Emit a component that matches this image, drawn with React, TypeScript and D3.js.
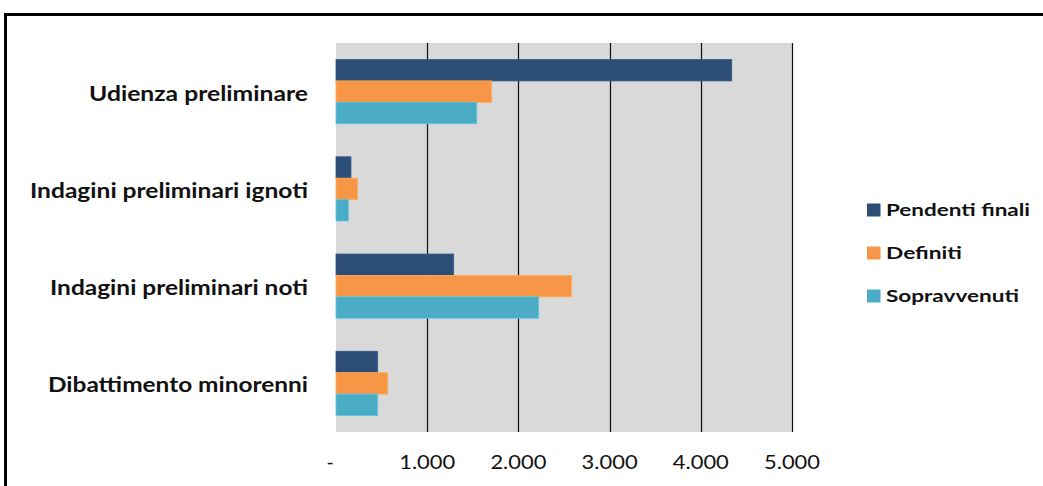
import React from "react";
import * as d3 from "d3";

const categories = [
  "Udienza preliminare",
  "Indagini preliminari ignoti",
  "Indagini preliminari noti",
  "Dibattimento minorenni",
];
const seriesNames = ["Pendenti finali", "Definiti", "Sopravvenuti"];
const pendentiFinali = [4339, 164, 1290, 457];
const definiti = [1707, 234, 2584, 567];
const sopravvenuti = [1543, 135, 2222, 457];
const tickValues = [0, 1000, 2000, 3000, 4000, 5000];
const tickLabels = ["-", "1.000", "2.000", "3.000", "4.000", "5.000"];

// rendered widths of the wide, Calibri-like labels
const categoryWidths = [219, 278, 258, 260];
const legendWidths = [144, 76, 133];
const tickWidth = 56;

const colors = ["#2C4E76", "#F79646", "#4BACC6"];
const font = "Lato, 'Open Sans', sans-serif";

export default function App() {
  const W = 1043;
  const H = 486;
  const plot = { left: 336, right: 792, top: 43, bottom: 432 };
  const x = d3.scaleLinear().domain([0, 5000]).range([plot.left, plot.right]);
  const y = d3
    .scaleBand<string>()
    .domain(categories)
    .range([plot.top, plot.bottom])
    .paddingInner(0.34)
    .paddingOuter(0.17);
  const inner = d3
    .scaleBand<string>()
    .domain(seriesNames)
    .range([0, y.bandwidth()]);
  const series = [pendentiFinali, definiti, sopravvenuti];

  return (
    <svg
      width={W}
      height={H}
      style={{ position: "fixed", left: 0, top: 0, background: "#fff" }}
    >
      <rect x={5.5} y={14.5} width={1100} height={600} fill="#fff" stroke="#000" strokeWidth={3} />
      <rect
        x={plot.left}
        y={plot.top}
        width={plot.right - plot.left}
        height={plot.bottom - plot.top}
        fill="#D9D9D9"
      />
      {tickValues.slice(1).map((t) => (
        <line
          key={t}
          x1={Math.round(x(t)) + 0.5}
          x2={Math.round(x(t)) + 0.5}
          y1={plot.top}
          y2={plot.bottom}
          stroke="#111"
          strokeWidth={1.2}
        />
      ))}
      {categories.map((c, i) => (
        <g key={c}>
          {series.map((s, j) => (
            <rect
              key={j}
              x={x(0)}
              y={(y(c) as number) + (inner(seriesNames[j]) as number)}
              width={x(s[i]) - x(0)}
              height={inner.bandwidth()}
              fill={colors[j]}
              stroke={d3.color(colors[j])!.brighter(0.4).toString()}
              strokeWidth={0.8}
            />
          ))}
          <text
            x={308}
            y={(y(c) as number) + y.bandwidth() / 2 + 9}
            textAnchor="end"
            fontFamily={font}
            fontWeight="bold"
            fontSize={21.5}
            textLength={categoryWidths[i]}
            lengthAdjust="spacingAndGlyphs"
            fill="#111"
          >
            {c}
          </text>
        </g>
      ))}
      {tickValues.map((t, i) => (
        <text
          key={t}
          x={i === 0 ? 330 : x(t)}
          y={469}
          textAnchor="middle"
          fontFamily={font}
          fontSize={19.5}
          textLength={i === 0 ? undefined : tickWidth}
          lengthAdjust="spacingAndGlyphs"
          fill="#111"
        >
          {tickLabels[i]}
        </text>
      ))}
      {seriesNames.map((n, j) => (
        <g key={n} transform={`translate(867, ${216 + j * 43})`}>
          <rect x={0} y={-12.5} width={13.5} height={13} fill={colors[j]} />
          <text
            x={19}
            y={0}
            fontFamily={font}
            fontWeight="bold"
            fontSize={17}
            textLength={legendWidths[j]}
            lengthAdjust="spacingAndGlyphs"
            fill="#111"
          >
            {n}
          </text>
        </g>
      ))}
    </svg>
  );
}
